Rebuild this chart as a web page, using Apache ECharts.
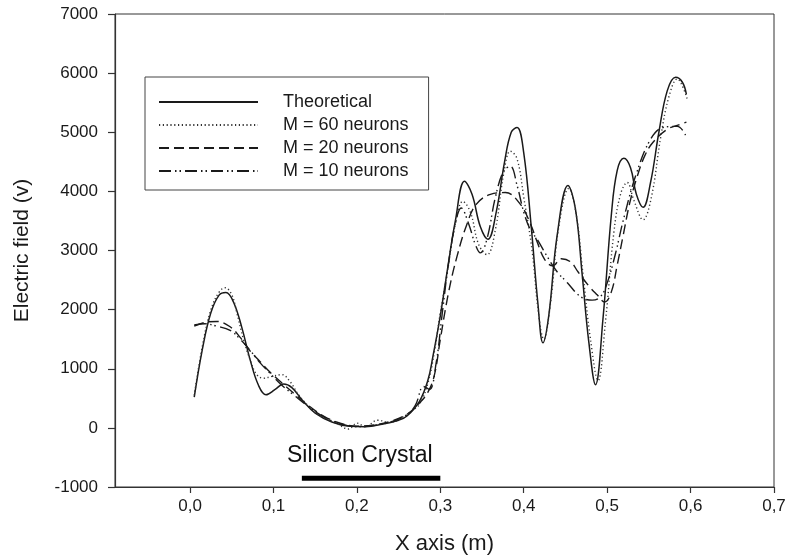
<!DOCTYPE html>
<html>
<head>
<meta charset="utf-8">
<script src="https://cdn.jsdelivr.net/npm/echarts@6/dist/echarts.min.js"></script>
<style>
html,body{margin:0;padding:0;background:#fff;}
#chart{width:789px;height:560px;}
</style>
</head>
<body>
<div id="chart"></div>
<script>
// x positions (m) and field values (v)
var thX = [0.005,0.015,0.025,0.035,0.043,0.052,0.062,0.072,0.082,0.091,0.102,0.112,0.122,0.135,0.15,0.17,0.19,0.21,0.23,0.25,0.26,0.275,0.285,0.291,0.30,0.308,0.318,0.329,0.338,0.348,0.357,0.367,0.377,0.385,0.392,0.40,0.409,0.417,0.423,0.43,0.44,0.453,0.462,0.47,0.478,0.486,0.495,0.505,0.512,0.520,0.528,0.535,0.543,0.552,0.562,0.572,0.582,0.590,0.595];
var thY = [520,1350,1950,2250,2290,2130,1700,1150,720,560,650,740,680,460,250,100,30,20,60,130,200,450,800,1200,1900,2630,3500,4170,3950,3400,3190,3650,4500,5000,5080,4650,3400,2100,1440,1900,3250,4100,3700,2600,1450,730,1850,3600,4350,4560,4400,3950,3730,4150,5000,5700,5930,5850,5640];

var m60X = [0.005,0.015,0.025,0.035,0.042,0.05,0.056,0.064,0.072,0.08,0.088,0.098,0.11,0.12,0.13,0.145,0.16,0.175,0.19,0.2,0.21,0.225,0.24,0.255,0.265,0.275,0.285,0.293,0.30,0.308,0.318,0.327,0.336,0.346,0.356,0.366,0.376,0.384,0.392,0.40,0.41,0.418,0.424,0.432,0.442,0.454,0.463,0.471,0.48,0.489,0.498,0.508,0.516,0.524,0.532,0.543,0.553,0.564,0.574,0.584,0.596];
var m60Y = [550,1400,2000,2300,2370,2250,1950,1500,1150,900,840,870,900,780,560,330,170,80,-20,80,20,130,90,180,280,400,750,1300,1950,2600,3450,3830,3650,3100,2930,3350,4300,4680,4550,3900,3000,1900,1500,2100,3400,4050,3600,2600,1500,800,1800,3300,3950,4150,3850,3520,3900,4900,5600,5900,5560];

var m20X = [0.005,0.02,0.032,0.048,0.06,0.072,0.084,0.096,0.11,0.124,0.14,0.16,0.18,0.2,0.22,0.24,0.26,0.275,0.285,0.293,0.30,0.31,0.32,0.332,0.343,0.36,0.378,0.396,0.408,0.416,0.425,0.435,0.445,0.456,0.465,0.478,0.488,0.497,0.505,0.512,0.519,0.527,0.536,0.545,0.555,0.572,0.585,0.595];
var m20Y = [1720,1790,1800,1710,1530,1300,1120,940,760,590,400,200,80,30,50,110,230,420,600,900,1500,2300,2900,3450,3780,3950,3980,3780,3450,3150,2850,2740,2860,2810,2640,2400,2250,2130,2300,2750,3240,3800,4250,4600,4830,5050,5120,5170];

var m10X = [0.005,0.018,0.032,0.048,0.06,0.072,0.084,0.096,0.11,0.124,0.14,0.16,0.18,0.2,0.22,0.24,0.26,0.27,0.28,0.287,0.295,0.302,0.31,0.318,0.325,0.334,0.342,0.348,0.356,0.366,0.376,0.384,0.392,0.4,0.408,0.416,0.428,0.44,0.452,0.468,0.482,0.492,0.5,0.51,0.52,0.535,0.552,0.567,0.584,0.595];
var m10Y = [1740,1760,1720,1650,1500,1310,1100,920,720,560,380,190,70,20,40,100,220,380,700,650,1100,1900,2800,3450,3720,3450,3100,2960,3200,3900,4350,4420,4100,3650,3350,3190,2900,2640,2460,2220,2160,2220,2450,2950,3550,4300,4880,5080,5100,4920];

var crystalX = [0.134, 0.30];
var crystalY = -850;
var xTicks = [0,0.1,0.2,0.3,0.4,0.5,0.6,0.7];
var names = ['Theoretical','M = 60 neurons','M = 20 neurons','M = 10 neurons'];

function pairs(xs, ys){
	var out = [];
	for(var i=0;i<xs.length;i++){ out.push([xs[i], ys[i]]); }
	return out;
}

var FONT = 'Liberation Sans, Arial, sans-serif';
var INK = '#1a1a1a';

var option = {
	animation:false,
	backgroundColor:'#fff',
	textStyle:{fontFamily:FONT},
	grid:{
		left:115, right:15, top:14, bottom:73,
		show:true, borderColor:'#333', borderWidth:1
	},
	legend:{
		orient:'vertical',
		left:145, top:77,
		data:names,
		backgroundColor:'#fff',
		borderColor:'#444', borderWidth:1,
		padding:[16,20,10,13],
		itemWidth:99, itemHeight:10, itemGap:5,
		itemStyle:{opacity:0},
		textStyle:{fontFamily:FONT, fontSize:18, color:INK, padding:[0,0,0,20]}
	},
	xAxis:{
		type:'value', min:-0.09, max:0.7,
		name:'X axis (m)', nameLocation:'middle', nameGap:46,
		nameTextStyle:{fontFamily:FONT, fontSize:22, color:INK},
		axisLine:{onZero:false, lineStyle:{color:'#333', width:1.2}},
		axisTick:{show:true, inside:false, length:6, customValues:xTicks, lineStyle:{color:'#333', width:1.2}},
		axisLabel:{customValues:xTicks, fontSize:17, color:INK, margin:11,
			formatter:function(v){ return v.toFixed(1).replace('.', ','); }},
		splitLine:{show:false}
	},
	yAxis:{
		type:'value', min:-1000, max:7000, interval:1000,
		name:'Electric field (v)', nameLocation:'middle', nameGap:82,
		nameTextStyle:{fontFamily:FONT, fontSize:21, color:INK},
		axisLine:{show:true, onZero:false, lineStyle:{color:'#333', width:1.2}},
		axisTick:{show:true, inside:false, length:7, lineStyle:{color:'#333', width:1.2}},
		axisLabel:{fontSize:17, color:INK, margin:17,
			formatter:function(v){ return String(v); }},
		splitLine:{show:false}
	},
	graphic:[{
		type:'text', left:287, top:444,
		style:{text:'Silicon Crystal', fontFamily:FONT, fontSize:23, fill:'#111'}
	}],
	series:[
		{
			name:names[0], type:'line', smooth:0.4, showSymbol:false, symbol:'none',
			data:pairs(thX, thY),
			lineStyle:{color:INK, width:1.5, type:'solid'}, itemStyle:{color:INK}
		},
		{
			name:names[1], type:'line', smooth:0.4, showSymbol:false, symbol:'none',
			data:pairs(m60X, m60Y),
			lineStyle:{color:'#333', width:1.4, type:[1.2,2.6]}, itemStyle:{color:'#333'}
		},
		{
			name:names[2], type:'line', smooth:0.4, showSymbol:false, symbol:'none',
			data:pairs(m20X, m20Y),
			lineStyle:{color:INK, width:1.4, type:[10,5]}, itemStyle:{color:INK}
		},
		{
			name:names[3], type:'line', smooth:0.4, showSymbol:false, symbol:'none',
			data:pairs(m10X, m10Y),
			lineStyle:{color:INK, width:1.4, type:[12,4,1.5,3,1.5,4]}, itemStyle:{color:INK}
		},
		{
			name:'crystal', type:'line', showSymbol:false, symbol:'none', silent:true,
			data:[[crystalX[0], crystalY],[crystalX[1], crystalY]],
			lineStyle:{color:'#000', width:5, cap:'butt'}
		}
	]
};

var chart = echarts.init(document.getElementById('chart'), null, {renderer:'canvas'});
chart.setOption(option);
</script>
</body>
</html>
